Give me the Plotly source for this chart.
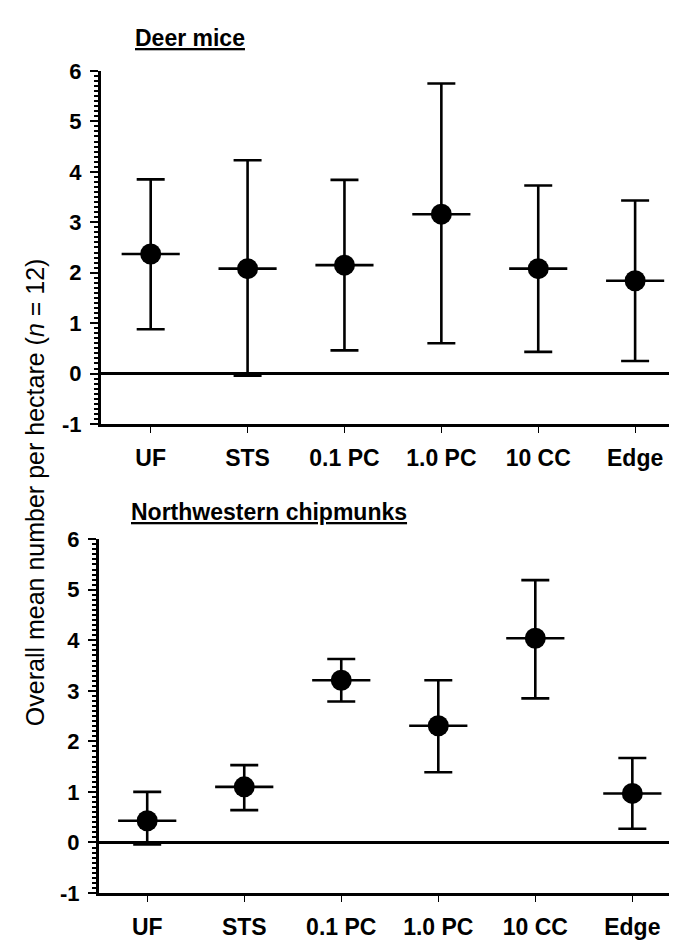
import plotly.graph_objects as go

categories = ["UF", "STS", "0.1 PC", "1.0 PC", "10 CC", "Edge"]

deer_mean = [2.37, 2.08, 2.15, 3.16, 2.08, 1.84]
deer_plus = [1.48, 2.15, 1.69, 2.59, 1.65, 1.59]
deer_minus = [1.49, 2.12, 1.69, 2.56, 1.65, 1.59]

chip_mean = [0.43, 1.10, 3.21, 2.31, 4.04, 0.97]
chip_plus = [0.57, 0.43, 0.42, 0.90, 1.15, 0.70]
chip_minus = [0.47, 0.46, 0.42, 0.92, 1.19, 0.70]

y_ticks = [-1, 0, 1, 2, 3, 4, 5, 6]
y_tick_labels = ["-1", "0", "1", "2", "3", "4", "5", "6"]

W, H = 677, 946
FONT = "Liberation Sans, Arial, sans-serif"
xpos = list(range(len(categories)))

fig = go.Figure()


def add_series(mean, plus, minus, xa, ya):
    fig.add_trace(go.Scatter(
        x=xpos, y=mean, mode="markers",
        marker=dict(size=21, color="black", symbol="circle"),
        error_y=dict(type="data", symmetric=False, array=plus, arrayminus=minus,
                     color="black", thickness=2.6, width=14),
        error_x=dict(type="constant", value=0.3, color="black", thickness=2.6, width=0),
        xaxis=xa, yaxis=ya, showlegend=False, hoverinfo="skip",
    ))


add_series(deer_mean, deer_plus, deer_minus, "x", "y")
add_series(chip_mean, chip_plus, chip_minus, "x2", "y2")


def xaxis(domain, rng, anchor):
    return dict(domain=domain, range=rng, anchor=anchor,
                tickmode="array", tickvals=xpos, ticktext=categories,
                ticks="outside", ticklen=6, tickwidth=1, tickcolor="black",
                showline=True, linecolor="black", linewidth=2.6,
                showgrid=False, zeroline=False, ticklabelstandoff=6,
                tickfont=dict(family=FONT, size=23, color="black", weight="bold"))


def yaxis(domain, anchor):
    return dict(domain=domain, range=[-1, 6], anchor=anchor,
                tickmode="array", tickvals=y_ticks, ticktext=y_tick_labels,
                ticks="outside", ticklen=8, tickwidth=2.4, tickcolor="black",
                minor=dict(dtick=0.1, ticks="outside", ticklen=4, tickwidth=1.6,
                           tickcolor="black", showgrid=False),
                showline=True, linecolor="black", linewidth=2.6,
                showgrid=False, zeroline=True, zerolinecolor="black", zerolinewidth=2.6,
                ticklabelstandoff=4,
                tickfont=dict(family=FONT, size=22, color="black", weight="bold"))


fig.update_layout(
    width=W, height=H,
    margin=dict(l=0, r=0, t=0, b=0),
    paper_bgcolor="white", plot_bgcolor="white",
    xaxis=xaxis([92.7 / W, 662 / W], [-0.516, 5.36], "y"),
    yaxis=yaxis([1 - 415 / H, 1 - 52.3 / H], "x"),
    xaxis2=xaxis([90.7 / W, 668 / W], [-0.50, 5.45], "y2"),
    yaxis2=yaxis([1 - 896.7 / H, 1 - 533.3 / H], "x2"),
    annotations=[
        dict(text="<u><b>Deer mice</b></u>", x=125 / W, y=1 - 18 / H,
             xref="paper", yref="paper", xanchor="left", yanchor="middle",
             showarrow=False, font=dict(family=FONT, size=23, color="black")),
        dict(text="<u><b>Northwestern chipmunks</b></u>", x=121 / W, y=1 - 505 / H,
             xref="paper", yref="paper", xanchor="left", yanchor="middle",
             showarrow=False, font=dict(family=FONT, size=23, color="black")),
        dict(text="Overall mean number per hectare (<i>n</i> = 12)", x=27 / W, y=1 - 485 / H,
             xref="paper", yref="paper", xanchor="center", yanchor="middle",
             textangle=-90, showarrow=False,
             font=dict(family=FONT, size=25, color="black")),
    ],
)

fig.write_html("out.html")
